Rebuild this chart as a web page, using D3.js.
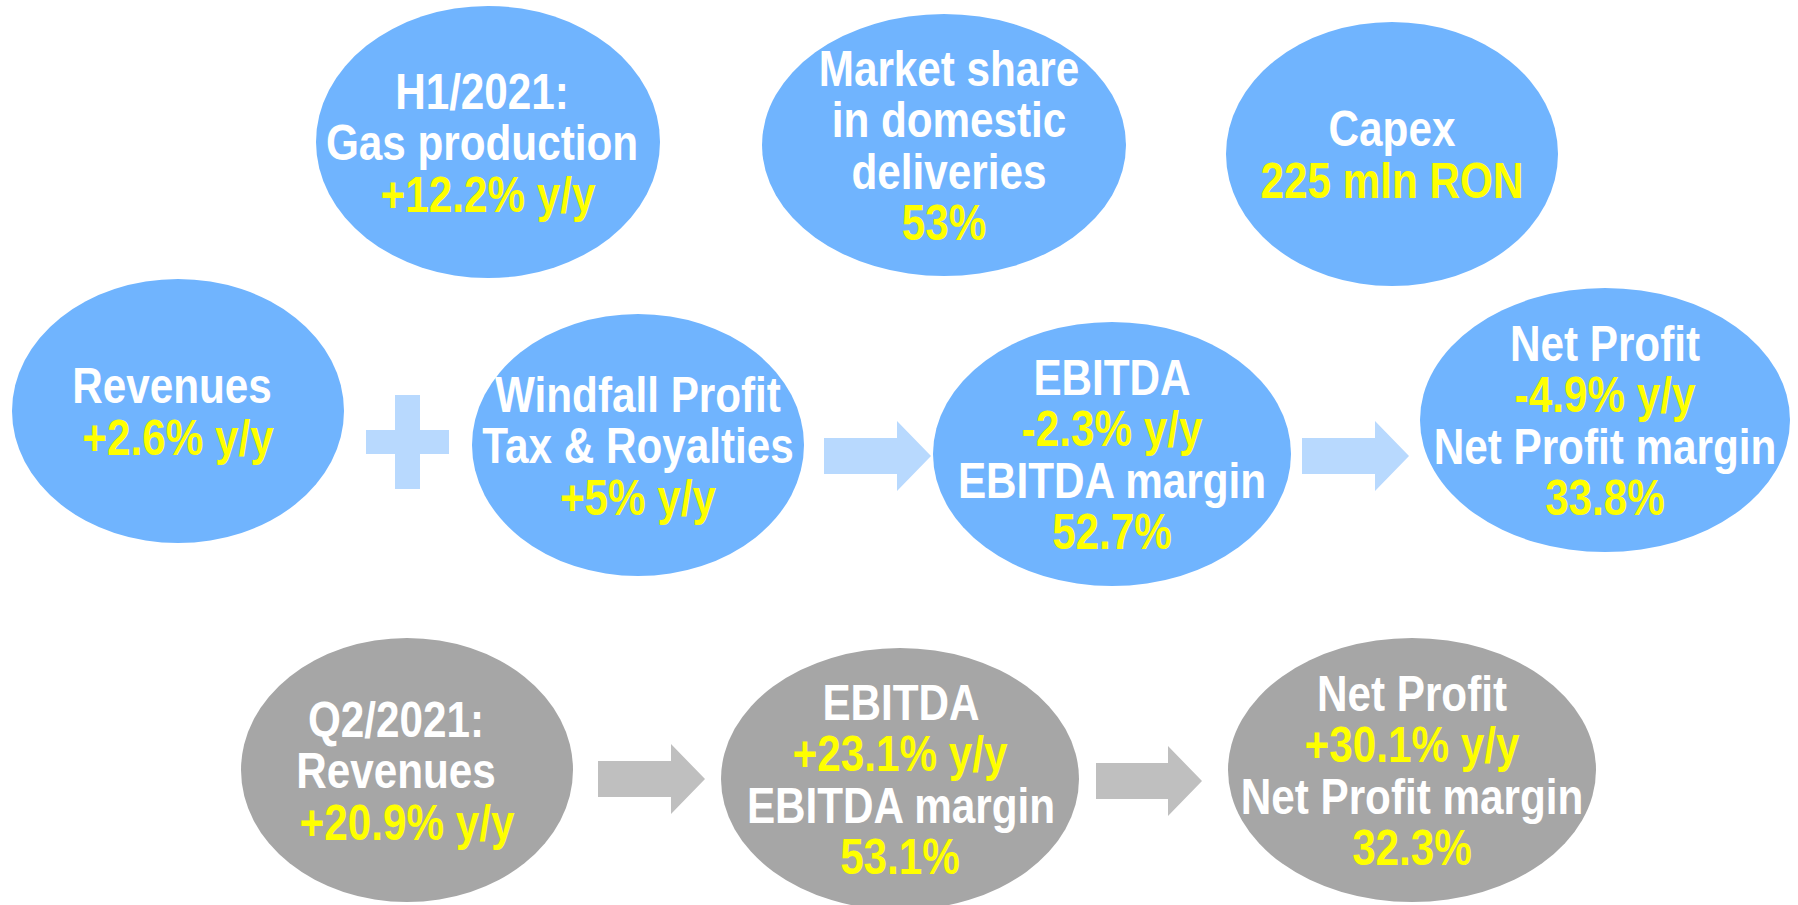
<!DOCTYPE html>
<html>
<head>
<meta charset="utf-8">
<script src="https://cdn.jsdelivr.net/npm/d3@7"></script>
<style>
  html, body { margin: 0; padding: 0; background: #fff; }
  svg { display: block; }
  text { font-family: "Liberation Sans", Arial, sans-serif; font-weight: bold; }
</style>
</head>
<body>
<svg id="chart" width="1798" height="905"></svg>
<script>
// text of each bubble (white title lines, yellow value lines)
var titles = ["H1/2021:\nGas production", "Market share\nin domestic\ndeliveries", "Capex",
  "Revenues", "Windfall Profit\nTax & Royalties", "EBITDA", "Net Profit",
  "Q2/2021:\nRevenues", "EBITDA", "Net Profit"];
var changes = ["+12.2% y/y", "53%", "225 mln RON", "+2.6% y/y", "+5% y/y", "-2.3% y/y", "-4.9% y/y",
  "+20.9% y/y", "+23.1% y/y", "+30.1% y/y"];
var marginNames = ["", "", "", "", "", "EBITDA margin", "Net Profit margin", "", "EBITDA margin", "Net Profit margin"];
var marginValues = ["", "", "", "", "", "52.7%", "33.8%", "", "53.1%", "32.3%"];
var periods = ["H1", "H1", "H1", "H1", "H1", "H1", "H1", "Q2", "Q2", "Q2"];

// links between bubbles: "+" sign or arrow
var links = [[3, 4, "plus"], [4, 5, "arrow"], [5, 6, "arrow"], [7, 8, "arrow"], [8, 9, "arrow"]];

// layout (pixel space of the slide)
var bubbleX = [488, 944, 1392, 178, 638, 1112, 1605, 407, 900, 1412];
var bubbleY = [142, 145, 154, 411, 445, 454, 420, 770, 779, 770];
var bubbleRx = [172, 182, 166, 166, 166, 179, 185, 166, 179, 184];
var bubbleRy = [136, 131, 132, 132, 131, 132, 132, 132, 131, 132];
var titleDx = [-6, 5, 0, -6, 0, 0, 0, -11, 1, 0];
var linkX0 = [366, 824, 1302, 598, 1096];
var linkX1 = [449, 931, 1409, 705, 1202];
var linkY = [442, 456, 456, 779, 781];

var svg = d3.select("#chart"),
  width = +svg.attr("width"),
  height = +svg.attr("height");

var x = d3.scaleLinear().domain([0, 1798]).range([0, width]);
var y = d3.scaleLinear().domain([0, 905]).range([0, height]);

var fill = d3.scaleOrdinal().domain(["H1", "Q2"]).range(["#70b4fe", "#a6a6a6"]);
var linkFill = d3.scaleOrdinal().domain(["H1", "Q2"]).range(["#b8d9fe", "#bfbfbf"]);

var fontSize = 50, lineGap = 51.5, squeeze = 0.845;

//build bubble rows from the arrays
var bubbles = titles.map(function (t, i) {
  var lines = t.split("\n").map(function (s) { return { text: s, yellow: false }; });
  lines.push({ text: changes[i], yellow: true });
  if (marginNames[i]) {
    lines.push({ text: marginNames[i], yellow: false });
    lines.push({ text: marginValues[i], yellow: true });
  }
  return { i: i, period: periods[i], lines: lines };
});

//plus sign and block arrows between bubbles
var conn = svg.append("g").attr("class", "links")
  .selectAll("path")
  .data(links)
  .enter().append("path")
  .attr("fill", function (d) { return linkFill(periods[d[0]]); })
  .attr("d", function (d, k) {
    var x0 = x(linkX0[k]), x1 = x(linkX1[k]), cy = y(linkY[k]);
    if (d[2] == "plus") {
      var cx = (x0 + x1) / 2, hw = 12.5, hh = 47, hl = (x1 - x0) / 2, th = 12;
      return "M" + (cx - hw) + "," + (cy - hh) + "H" + (cx + hw) + "V" + (cy - th) +
        "H" + (cx + hl) + "V" + (cy + th) + "H" + (cx + hw) + "V" + (cy + hh) +
        "H" + (cx - hw) + "V" + (cy + th) + "H" + (cx - hl) + "V" + (cy - th) +
        "H" + (cx - hw) + "Z";
    }
    var body = 18, head = 35, hx = x1 - 34;
    return "M" + x0 + "," + (cy - body) + "H" + hx + "V" + (cy - head) + "L" + x1 + "," + cy +
      "L" + hx + "," + (cy + head) + "V" + (cy + body) + "H" + x0 + "Z";
  });

var node = svg.append("g").attr("class", "bubbles")
  .selectAll(".bubble")
  .data(bubbles)
  .enter().append("g")
  .attr("class", "bubble")
  .attr("transform", function (d) {
    return "translate(" + x(bubbleX[d.i]) + "," + y(bubbleY[d.i]) + ")";
  });

node.append("ellipse")
  .attr("rx", function (d) { return bubbleRx[d.i]; })
  .attr("ry", function (d) { return bubbleRy[d.i]; })
  .attr("fill", function (d) { return fill(d.period); });

node.selectAll("text")
  .data(function (d) { return d.lines.map(function (l, k) { return { l: l, k: k, n: d.lines.length, dx: titleDx[d.i] }; }); })
  .enter().append("text")
  .attr("text-anchor", "middle")
  .attr("font-size", fontSize)
  .attr("transform", function (d) {
    var by = (d.k - (d.n - 1) / 2) * lineGap + 18;
    //only the white title lines sit a little off centre
    var bx = d.l.yellow ? 0 : d.dx;
    return "translate(" + bx + "," + by + ") scale(" + squeeze + ",1)";
  })
  .attr("fill", function (d) { return d.l.yellow ? "#ffff00" : "#ffffff"; })
  .text(function (d) { return d.l.text; });
</script>
</body>
</html>
